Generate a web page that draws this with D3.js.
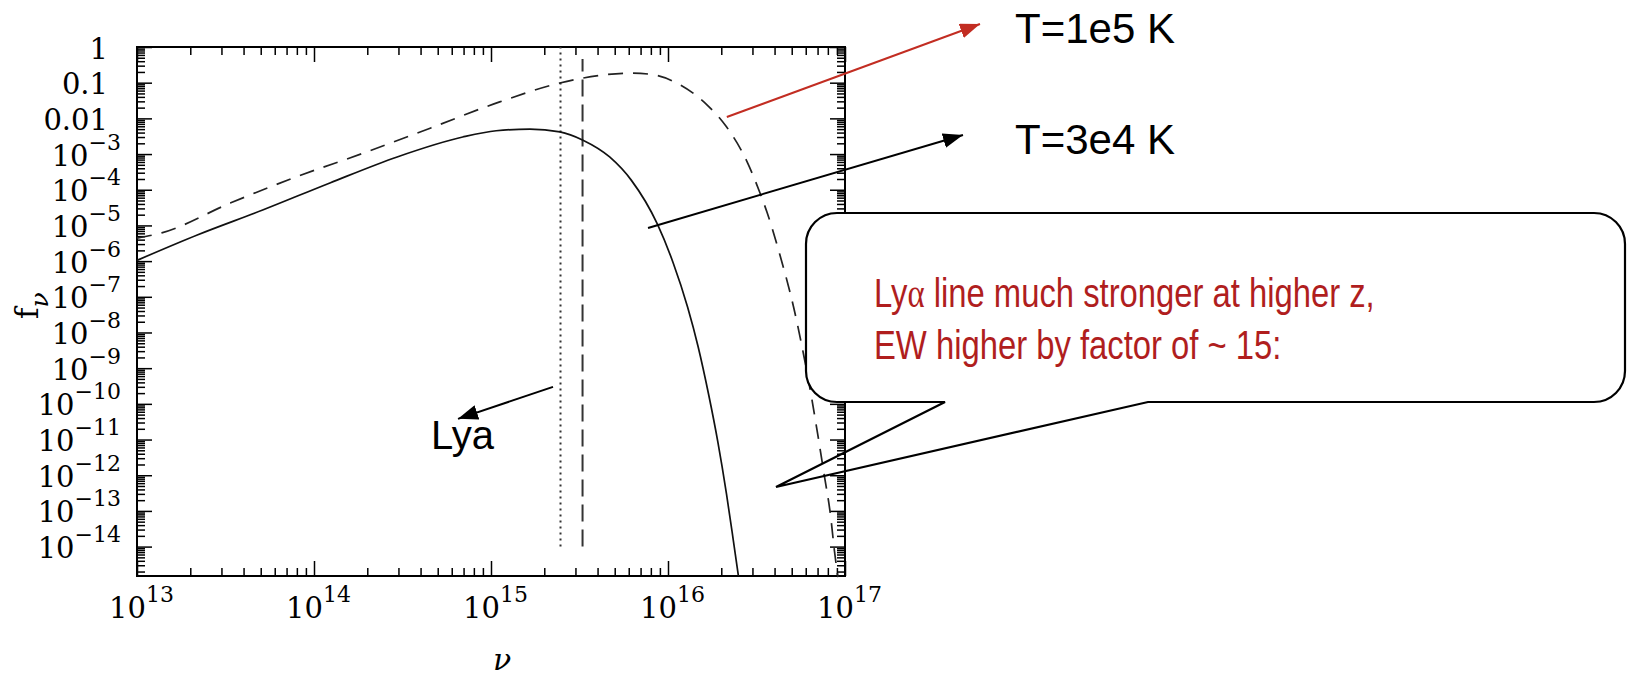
<!DOCTYPE html>
<html>
<head>
<meta charset="utf-8">
<script src="https://cdn.jsdelivr.net/npm/d3@7"></script>
<style>
  body { margin: 0; background: #fff; }
  svg { display: block; }
  .tick text { font-family: "DejaVu Serif", "Liberation Serif", serif; fill: #000; }
  .annot { font-family: "Liberation Sans", Arial, sans-serif; }
</style>
</head>
<body>
<svg class="chart" width="1628" height="678"></svg>
<script>
//Blackbody curve T=3e4 K (solid)
const nuCool = [1e13, 2.19e13, 5.13e13, 1.23e14, 2.95e14, 6.92e14, 1.07e15, 1.66e15, 2.45e15, 3.31e15,
  4.68e15, 6.2e15, 8.7e15, 1.07e16, 1.29e16, 1.48e16, 1.70e16, 1.91e16, 2.14e16, 2.34e16, 2.5e16];
const fCool = [1.05e-6, 5.4e-6, 2.7e-5, 1.55e-4, 8.3e-4, 3.0e-3, 4.5e-3, 5.0e-3, 4.2e-3, 2.45e-3,
  8.3e-4, 1.86e-4, 1.1e-5, 8.9e-7, 5.2e-8, 4.0e-9, 1.74e-10, 8.9e-12, 3.0e-13, 1.48e-14, 1.5e-15];

//Blackbody curve T=1e5 K (dashed)
const nuHot = [1e13, 1.38e13, 3.39e13, 7.94e13, 1.91e14, 4.57e14, 1.12e15, 2.45e15, 3.31e15, 6.3e15,
  8.3e15, 1.17e16, 1.66e16, 2.14e16, 2.82e16, 3.31e16, 3.63e16, 4.27e16, 5.13e16, 5.89e16,
  6.46e16, 6.92e16, 7.59e16, 8.32e16, 8.71e16, 9.12e16];
const fHot = [4.4e-6, 6.2e-6, 4.3e-5, 2.3e-4, 1.07e-3, 5.4e-3, 2.9e-2, 9.8e-2, 0.135, 0.186,
  0.166, 8.7e-2, 2.4e-2, 5.8e-3, 5.6e-4, 8.1e-5, 2.3e-5, 1.6e-6, 5.0e-8, 1.9e-9,
  1.6e-10, 2.1e-11, 1.2e-12, 6.3e-14, 7.8e-15, 1.4e-15];

//Vertical markers: Lya and Lyman limit
const nuLya = 2.47e15;
const lyaRange = [1e-14, 1];
const nuLymanLimit = 3.29e15;
const lymanRange = [1e-14, 0.46];

//Tick values and labels
const xTickValues = [1e13, 1e14, 1e15, 1e16, 1e17];
const xTickLabels = ['10^13', '10^14', '10^15', '10^16', '10^17'];
const yTickValues = [1, 0.1, 0.01, 1e-3, 1e-4, 1e-5, 1e-6, 1e-7, 1e-8, 1e-9, 1e-10, 1e-11, 1e-12, 1e-13, 1e-14];
const yTickLabels = ['1', '0.1', '0.01', '10^\u22123', '10^\u22124', '10^\u22125', '10^\u22126', '10^\u22127',
  '10^\u22128', '10^\u22129', '10^\u221210', '10^\u221211', '10^\u221212', '10^\u221213', '10^\u221214'];

//Arrows, in data coordinates [nu, f] -> [nu, f]
const arrowHot = [[2.15e16, 0.0109], [5.79e17, 4.41]];
const arrowCool = [[7.71e15, 8.5e-6], [4.64e17, 3.43e-3]];
const arrowLya = [[2.24e15, 3.0e-10], [6.51e14, 3.8e-11]];

const calloutLines = ['line much stronger at higher z,', 'EW higher by factor of ~ 15:'];

//Plot frame
const plotLeft = 137, plotRight = 845, plotTop = 47, plotBottom = 576;

const x = d3.scaleLog().domain([1e13, 1e17]).range([plotLeft, plotRight]);
const y = d3.scaleLog().domain([1.5e-15, 1]).range([plotBottom, plotTop]);

//minor ticks 2..9 in each decade
const xMinor = [];
for (let e = 13; e < 17; e++) for (let k = 2; k <= 9; k++) xMinor.push(k * Math.pow(10, e));
const yMinor = [];
for (let e = -15; e < 0; e++) for (let k = 2; k <= 9; k++) {
  const v = k * Math.pow(10, e);
  if (v >= 1.5e-15) yMinor.push(v);
}

const svg = d3.select('svg.chart');

//Arrow heads
const defs = svg.append('defs');
[['headBlack', '#000'], ['headRed', '#c22d22']].forEach(([id, col]) => {
  defs.append('marker')
    .attr('id', id)
    .attr('markerUnits', 'userSpaceOnUse')
    .attr('markerWidth', 21).attr('markerHeight', 15)
    .attr('refX', 20).attr('refY', 7.5)
    .attr('orient', 'auto')
    .append('path')
    .attr('d', 'M0,0 L20,7.5 L0,15 Z')
    .attr('fill', col);
});

//Axes (ticks pointing inwards on all four sides)
function styleAxis(g) {
  g.select('.domain').remove();
  g.selectAll('.tick line').attr('stroke', '#000').attr('stroke-width', 1.5);
}

svg.append('g').attr('transform', `translate(0,${plotBottom})`)
  .call(d3.axisBottom(x).tickValues(xMinor).tickSize(-8).tickFormat(''))
  .call(styleAxis);
svg.append('g').attr('transform', `translate(0,${plotTop})`)
  .call(d3.axisTop(x).tickValues(xMinor).tickSize(-8).tickFormat(''))
  .call(styleAxis);
svg.append('g').attr('transform', `translate(0,${plotTop})`)
  .call(d3.axisTop(x).tickValues(xTickValues).tickSize(-15).tickFormat(''))
  .call(styleAxis);
svg.append('g').attr('transform', `translate(${plotLeft},0)`)
  .call(d3.axisLeft(y).tickValues(yMinor).tickSize(-8).tickFormat(''))
  .call(styleAxis);
svg.append('g').attr('transform', `translate(${plotRight},0)`)
  .call(d3.axisRight(y).tickValues(yMinor).tickSize(-8).tickFormat(''))
  .call(styleAxis);
svg.append('g').attr('transform', `translate(${plotRight},0)`)
  .call(d3.axisRight(y).tickValues(yTickValues).tickSize(-15).tickFormat(''))
  .call(styleAxis);

//labelled axes
function writeLabel(textSel, label) {
  const parts = label.split('^');
  textSel.text(null);
  textSel.append('tspan').text(parts[0]);
  if (parts[1]) {
    textSel.append('tspan').attr('dy', -16).attr('font-size', 22).text(parts[1]);
  }
}

const xAxis = svg.append('g').attr('transform', `translate(0,${plotBottom})`)
  .call(d3.axisBottom(x).tickValues(xTickValues).tickSize(-15).tickFormat((d, i) => xTickLabels[i]))
  .call(styleAxis);
xAxis.selectAll('.tick text')
  .attr('x', 4).attr('y', 42).attr('dy', 0)
  .attr('font-size', 29)
  .each(function (d, i) { writeLabel(d3.select(this), xTickLabels[i]); });

const yAxis = svg.append('g').attr('transform', `translate(${plotLeft},0)`)
  .call(d3.axisLeft(y).tickValues(yTickValues).tickSize(-15).tickFormat((d, i) => yTickLabels[i]))
  .call(styleAxis);
yAxis.selectAll('.tick text')
  .attr('x', (d, i) => yTickLabels[i].includes('^') ? -16 : -29)
  .attr('y', 11).attr('dy', 0)
  .attr('font-size', 29)
  .each(function (d, i) { writeLabel(d3.select(this), yTickLabels[i]); });

//frame
svg.append('rect')
  .attr('x', plotLeft).attr('y', plotTop)
  .attr('width', plotRight - plotLeft).attr('height', plotBottom - plotTop)
  .attr('fill', 'none').attr('stroke', '#000').attr('stroke-width', 2);

//axis titles
svg.append('text')
  .attr('x', 502).attr('y', 670)
  .attr('text-anchor', 'middle')
  .attr('font-family', '"DejaVu Serif", serif')
  .attr('font-style', 'italic')
  .attr('font-size', 30)
  .text('\u03bd');

const yTitle = svg.append('text')
  .attr('transform', 'translate(38,319) rotate(-90)')
  .attr('font-family', '"DejaVu Serif", serif')
  .attr('font-size', 31);
yTitle.append('tspan').text('f');
yTitle.append('tspan').attr('dy', 10).attr('font-size', 25).attr('font-style', 'italic').text('\u03bd');

//vertical lines
svg.append('line')
  .attr('x1', x(nuLya)).attr('x2', x(nuLya))
  .attr('y1', y(lyaRange[0])).attr('y2', y(lyaRange[1]))
  .attr('stroke', '#333').attr('stroke-width', 2).attr('stroke-dasharray', '2,4');
svg.append('line')
  .attr('x1', x(nuLymanLimit)).attr('x2', x(nuLymanLimit))
  .attr('y1', y(lymanRange[0])).attr('y2', y(lymanRange[1]))
  .attr('stroke', '#333').attr('stroke-width', 2).attr('stroke-dasharray', '17,8');

//curves
const line = d3.line()
  .x(d => x(d[0]))
  .y(d => y(d[1]))
  .curve(d3.curveMonotoneX);

svg.append('path')
  .datum(nuCool.map((v, i) => [v, fCool[i]]))
  .attr('d', line)
  .attr('fill', 'none').attr('stroke', '#111').attr('stroke-width', 1.7);

svg.append('path')
  .datum(nuHot.map((v, i) => [v, fHot[i]]))
  .attr('d', line)
  .attr('fill', 'none').attr('stroke', '#222').attr('stroke-width', 1.7)
  .attr('stroke-dasharray', '15,10');

//arrows
function drawArrow(pts, col, head) {
  svg.append('line')
    .attr('x1', x(pts[0][0])).attr('y1', y(pts[0][1]))
    .attr('x2', x(pts[1][0])).attr('y2', y(pts[1][1]))
    .attr('stroke', col).attr('stroke-width', 2)
    .attr('marker-end', `url(#${head})`);
}
drawArrow(arrowHot, '#c22d22', 'headRed');
drawArrow(arrowCool, '#000', 'headBlack');
drawArrow(arrowLya, '#000', 'headBlack');

//labels
svg.append('text').attr('class', 'annot')
  .attr('x', 1015).attr('y', 43).attr('font-size', 42).text('T=1e5 K');
svg.append('text').attr('class', 'annot')
  .attr('x', 1015).attr('y', 154).attr('font-size', 42).text('T=3e4 K');
svg.append('text').attr('class', 'annot')
  .attr('x', 431).attr('y', 449).attr('font-size', 40).text('Lya');

//callout box
const bx0 = 806, bx1 = 1625, by0 = 213, by1 = 402, r = 31;
const tailA = 945, tailB = 1148, tailTip = [776, 487];

svg.append('rect')
  .attr('x', bx0).attr('y', by0)
  .attr('width', bx1 - bx0).attr('height', by1 - by0)
  .attr('rx', r).attr('ry', r)
  .attr('fill', '#fff');

const outline = d3.path();
outline.moveTo(bx0 + r, by0);
outline.lineTo(bx1 - r, by0);
outline.arcTo(bx1, by0, bx1, by0 + r, r);
outline.lineTo(bx1, by1 - r);
outline.arcTo(bx1, by1, bx1 - r, by1, r);
outline.lineTo(tailB, by1);
outline.lineTo(tailTip[0], tailTip[1]);
outline.lineTo(tailA, by1);
outline.lineTo(bx0 + r, by1);
outline.arcTo(bx0, by1, bx0, by1 - r, r);
outline.lineTo(bx0, by0 + r);
outline.arcTo(bx0, by0, bx0 + r, by0, r);
outline.closePath();

svg.append('path')
  .attr('d', outline.toString())
  .attr('fill', 'none').attr('stroke', '#000').attr('stroke-width', 2.2);

//condensed sans text, as in the reference
const callout = svg.append('text').attr('class', 'annot')
  .attr('transform', 'translate(874,0) scale(0.8,1)')
  .attr('fill', '#b01e1e').attr('font-size', 41);
const l1 = callout.append('tspan').attr('x', 0).attr('y', 307);
l1.append('tspan').text('Ly');
l1.append('tspan').attr('font-family', '"Liberation Serif", serif').text('\u03b1');
l1.append('tspan').text(' ' + calloutLines[0]);
callout.append('tspan').attr('x', 0).attr('y', 359).text(calloutLines[1]);
</script>
</body>
</html>
